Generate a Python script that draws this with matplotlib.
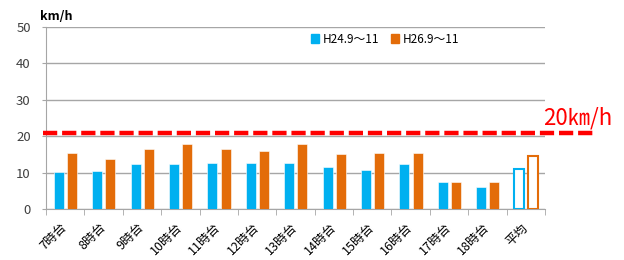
import numpy as np
import matplotlib
matplotlib.use('Agg')
import matplotlib.pyplot as plt
from matplotlib.patches import Patch

plt.rcParams['font.family'] = ['Noto Sans CJK JP', 'DejaVu Sans']

# data
hours = ['7時台', '8時台', '9時台', '10時台', '11時台', '12時台', '13時台',
         '14時台', '15時台', '16時台', '17時台', '18時台', '平均']
speed_h24 = [10.1, 10.4, 12.3, 12.3, 12.6, 12.6, 12.6, 11.5, 10.6, 12.5, 7.4, 6.0, 11.0]
speed_h26 = [15.3, 13.7, 16.4, 17.9, 16.6, 16.0, 17.9, 15.0, 15.5, 15.3, 7.4, 7.4, 14.6]
labels = ['H24.9～11', 'H26.9～11']
limit = 20.9
limit_text = '20㎞/h'

blue = '#00B0F0'
orange = '#E36C09'
grid_c = '#A6A6A6'
txt_c = '#404040'

fig = plt.figure(figsize=(6.24, 2.6), dpi=100)
ax = fig.add_axes([46/624, 1-209/260, 499/624, 182/260])

x = np.arange(len(hours))
w = 0.26
n = len(hours) - 1  # last one (average) drawn hollow
ax.bar(x[:n] - 0.165, speed_h24[:n], width=w, color=blue, edgecolor='white', linewidth=0.4, zorder=3)
ax.bar(x[:n] + 0.18, speed_h26[:n], width=w, color=orange, edgecolor='white', linewidth=0.4, zorder=3)
ax.bar(x[n:] - 0.165, speed_h24[n:], width=w, facecolor='white', edgecolor=blue, linewidth=1.5, zorder=3)
ax.bar(x[n:] + 0.18, speed_h26[n:], width=w, facecolor='white', edgecolor=orange, linewidth=1.5, zorder=3)

# 20km/h reference line, runs past the plot area
ax.plot([-0.58, 13.8], [limit, limit], color='#FF0000', lw=3.2,
        dashes=(3.2, 1.1), clip_on=False, zorder=4)
fig.text(612/624, 1-118/260, limit_text, color='#FF0000', fontsize=16,
         ha='right', va='center')

ax.set_xlim(-0.5, len(hours) - 0.5)
ax.set_ylim(0, 50)
ax.set_yticks([0, 10, 20, 30, 40, 50])
ax.yaxis.grid(True, color=grid_c, lw=1)
ax.set_axisbelow(True)

ax.set_xticks(x)
ax.set_xticklabels(hours, rotation=45, ha='right', va='center', rotation_mode='anchor')
ax.set_xticks(np.arange(-0.5, len(hours)), minor=True)
ax.tick_params(axis='x', which='major', length=0, pad=12, labelsize=9, labelcolor='black')
ax.tick_params(axis='x', which='minor', length=4, color=grid_c)
ax.tick_params(axis='y', length=3, color=grid_c, labelsize=9.5, labelcolor=txt_c, pad=8)

for s in ['top', 'right']:
    ax.spines[s].set_visible(False)
ax.spines['left'].set_color(grid_c)
ax.spines['bottom'].set_color(grid_c)

fig.text(40/624, 1-16/260, 'km/h', fontsize=9, fontweight='bold', va='center', color='black')

handles = [Patch(color=blue), Patch(color=orange)]
ax.legend(handles, labels, ncol=2, frameon=False, fontsize=8.5,
          loc='center left', bbox_to_anchor=(254/499, 1-12/182),
          handlelength=0.7, handleheight=0.7, handletextpad=0.3, columnspacing=1.0)

plt.savefig('out.png', dpi=100)
